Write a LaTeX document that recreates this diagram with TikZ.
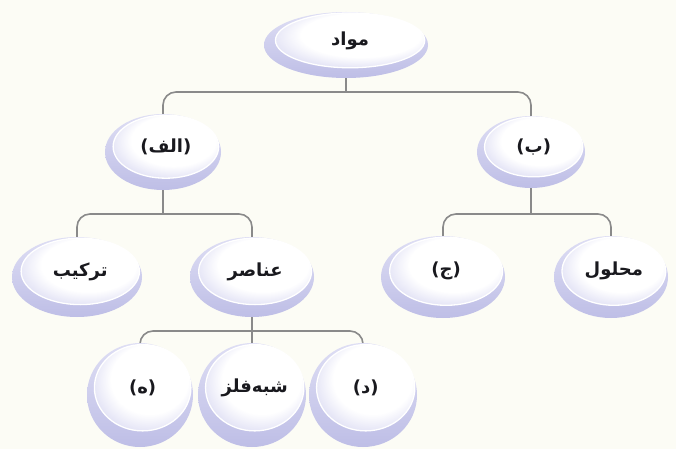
\documentclass[tikz,border=0pt]{standalone}
\usepackage{fontspec}
\TeXXeTstate=1
\newfontfamily\arabicfont[Script=Arabic]{DejaVu Sans}
\usetikzlibrary{shapes.geometric}
\pgfdeclarelayer{background}
\pgfsetlayers{background,main}

\definecolor{paper}{RGB}{252,252,245}
\definecolor{rim}{RGB}{190,190,230}
\definecolor{rimlight}{RGB}{222,222,244}
\definecolor{glow}{RGB}{206,206,238}
\definecolor{wire}{RGB}{138,138,138}
\definecolor{ink}{RGB}{25,25,30}

% white face that turns lavender towards its lower left edge
\pgfdeclareradialshading{facelit}{\pgfpoint{6bp}{8bp}}{%
  color(0bp)=(white); color(20bp)=(white); color(36bp)=(glow); color(50bp)=(glow)}

\tikzset{
  shell/.style={ellipse, inner sep=0pt, top color=rimlight, bottom color=rim},
  face/.style={ellipse, inner sep=0pt, draw=white, line width=1.3pt,
    shading=facelit, text=ink,
    font=\arabicfont\bfseries\fontsize{18}{21}\selectfont},
  wire/.style={draw=wire, line width=1.6pt, rounded corners=13pt},
}

% \bubble{name}{x}{y}{x radius}{y radius}{label}
\newcommand\bubble[6]{%
  \node[shell, minimum width={2*#4pt}, minimum height={2*#5pt}] (#1) at (#2,#3) {};
  \node[face, minimum width={1.82*#4pt}, minimum height={1.66*#5pt}]
    (#1-f) at ({#2+0.05*#4},{#3-0.14*#5}) {\beginR #6\endR};
}

\begin{document}
\begin{tikzpicture}[x=1pt, y=-1pt]
  \begin{pgfonlayer}{background}
    \fill[paper] (0,0) rectangle (676,449);
  \end{pgfonlayer}
  \useasboundingbox (0,0) rectangle (676,449);

  \bubble{mavad}{346}{45}{82}{33}{مواد}
  \bubble{alef}{163}{152}{58}{38}{(الف)}
  \bubble{be}{531}{152}{54}{36}{(ب)}
  \bubble{tarkib}{77}{277}{65}{40}{ترکیب}
  \bubble{anaser}{252}{277}{62}{40}{عناصر}
  \bubble{jim}{443}{277}{62}{41}{(ج)}
  \bubble{mahlul}{611}{277}{57}{41}{محلول}
  \bubble{he}{140}{395}{53}{52}{(ه)}
  \bubble{shebh}{252}{395}{54}{52}{شبه^^^^200cفلز}
  \bubble{dal}{363}{395}{54}{52}{(د)}

  \coordinate (bar1) at (0,92);
  \coordinate (bar2) at (0,214);
  \coordinate (bar3) at (0,331);

  % connectors run behind the bubbles
  \begin{pgfonlayer}{background}
    \draw[wire] (mavad.center) -- (mavad.center |- bar1);
    \draw[wire] (alef.center) -- (alef.center |- bar1) -- (be.center |- bar1) -- (be.center);

    \draw[wire] (alef.center) -- (alef.center |- bar2);
    \draw[wire] (tarkib.center) -- (tarkib.center |- bar2) -- (anaser.center |- bar2) -- (anaser.center);

    \draw[wire] (be.center) -- (be.center |- bar2);
    \draw[wire] (jim.center) -- (jim.center |- bar2) -- (mahlul.center |- bar2) -- (mahlul.center);

    \draw[wire] (anaser.center) -- (anaser.center |- bar3);
    \draw[wire] (he.center) -- (he.center |- bar3) -- (dal.center |- bar3) -- (dal.center);
    \draw[wire] (shebh.center) -- (shebh.center |- bar3);
  \end{pgfonlayer}
\end{tikzpicture}
\end{document}
